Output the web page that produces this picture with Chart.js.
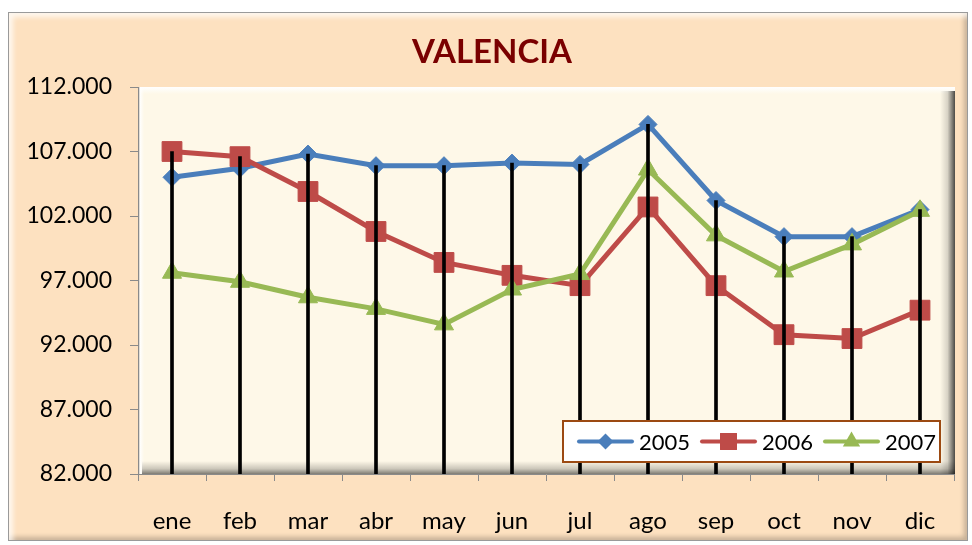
<!DOCTYPE html>
<html><head><meta charset="utf-8">
<script src="https://cdn.jsdelivr.net/npm/chart.js@4.4.1/dist/chart.umd.min.js"></script>
<style>
html,body{margin:0;padding:0;background:#fff;}
#wrap{position:relative;width:972px;height:545px;overflow:hidden;}
#frame{position:absolute;left:8px;top:12px;width:958px;height:527px;background:#FDE1C0;border:1px solid #9a9a9a;
 box-shadow: inset 4px 4px 5px rgba(255,255,255,0.75), inset -3px -3px 5px rgba(0,0,0,0.22);}
canvas{position:absolute;left:0;top:0;}
</style></head><body>
<div id="wrap"><div id="frame"></div><canvas id="c" width="972" height="545"></canvas></div>
<script>
const chartTitle = 'VALENCIA';
const categories = ['ene','feb','mar','abr','may','jun','jul','ago','sep','oct','nov','dic'];
const seriesNames = ['2005','2006','2007'];
const values2005 = [105000,105700,106800,105900,105900,106100,106000,109100,103200,100400,100400,102500];
const values2006 = [107000,106600,103900,100800,98400,97400,96600,102700,96600,92800,92500,94700];
const values2007 = [97600,96900,95700,94800,93600,96300,97500,105600,100500,97700,99800,102400];
const yMin = 82000, yMax = 112000, yStep = 5000;

const colors = ['#4A7EBB','#BE4B48','#98B954'];
const styles = ['rectRot','rect','triangle'];
const radii = [9,14,11];

function fmt(v){ return String(v).replace(/\B(?=(\d{3})+(?!\d))/g,'.'); }

const dropData = categories.map((_, i) => [yMin, Math.max(values2005[i], values2006[i], values2007[i])]);

const plotBg = {
  id:'plotBg',
  beforeDraw(chart){
    const {ctx, chartArea:a} = chart;
    const L=a.left, R=a.right+1, T=a.top, B=a.bottom;
    ctx.save();
    ctx.fillStyle='#FEF8E8';
    ctx.fillRect(L,T,R-L,B-T);
    let g = ctx.createLinearGradient(0,T,0,T+7);
    g.addColorStop(0,'rgba(255,255,255,1)'); g.addColorStop(1,'rgba(255,255,255,0)');
    ctx.fillStyle=g; ctx.fillRect(L,T,R-L,7);
    g = ctx.createLinearGradient(L,0,L+6,0);
    g.addColorStop(0,'rgba(120,110,100,0.45)'); g.addColorStop(0.35,'rgba(255,255,255,0.9)'); g.addColorStop(1,'rgba(255,255,255,0)');
    ctx.fillStyle=g; ctx.fillRect(L,T,6,B-T);
    g = ctx.createLinearGradient(R-15,0,R,0);
    g.addColorStop(0,'rgba(0,0,0,0)'); g.addColorStop(0.5,'rgba(0,0,0,0.15)'); g.addColorStop(1,'rgba(0,0,0,0.7)');
    ctx.fillStyle=g; ctx.fillRect(R-15,T+4,15,B-T-4);
    g = ctx.createLinearGradient(0,B-13,0,B);
    g.addColorStop(0,'rgba(0,0,0,0)'); g.addColorStop(0.6,'rgba(0,0,0,0.2)'); g.addColorStop(1,'rgba(0,0,0,0.5)');
    ctx.fillStyle=g; ctx.fillRect(L+4,B-13,R-L-4,13);
    ctx.restore();
  }
};

function drawMarker(ctx, style, x, y, r){
  ctx.beginPath();
  if(style==='rectRot'){
    ctx.moveTo(x,y-r); ctx.lineTo(x+r,y); ctx.lineTo(x,y+r); ctx.lineTo(x-r,y); ctx.closePath();
  } else if(style==='rect'){
    const s=r*Math.SQRT1_2; ctx.rect(x-s,y-s,2*s,2*s);
  } else {
    ctx.moveTo(x,y-r);
    ctx.lineTo(x+Math.sin(2*Math.PI/3)*r, y-Math.cos(2*Math.PI/3)*r);
    ctx.lineTo(x+Math.sin(4*Math.PI/3)*r, y-Math.cos(4*Math.PI/3)*r);
    ctx.closePath();
  }
  ctx.fill();
}

const titleAndLegend = {
  id:'titleAndLegend',
  afterDraw(chart){
    const {ctx, chartArea:a} = chart;
    ctx.save();
    ctx.font='bold 33px Lato';
    ctx.fillStyle='#7A0000';
    ctx.textAlign='center'; ctx.textBaseline='middle';
    ctx.fillText(chartTitle, 492, 52);
    const bx=a.left+425, by=a.top+334, bw=377, bh=41;
    ctx.fillStyle='#fff'; ctx.fillRect(bx,by,bw,bh);
    ctx.strokeStyle='#9C4A12'; ctx.lineWidth=2; ctx.strokeRect(bx,by,bw,bh);
    const cy=by+bh/2;
    ctx.font='22px Lato'; ctx.textAlign='left'; ctx.textBaseline='middle';
    seriesNames.forEach((n,i)=>{
      const x0=bx+16+i*123;
      ctx.strokeStyle=colors[i]; ctx.lineWidth=4; ctx.lineCap='round';
      ctx.beginPath(); ctx.moveTo(x0,cy); ctx.lineTo(x0+53,cy); ctx.stroke();
      ctx.fillStyle=colors[i];
      drawMarker(ctx, styles[i], x0+26.5, cy, i===1?12:(i===0?8:10));
      ctx.fillStyle='#000';
      ctx.fillText(n, x0+60, cy+1);
    });
    ctx.restore();
  }
};

const seriesValues=[values2005,values2006,values2007];
const datasets = seriesValues.map((vals,i)=>({
  type:'line', label:seriesNames[i], data:vals,
  borderColor:colors[i], backgroundColor:colors[i], borderWidth:5,
  pointStyle:styles[i], pointRadius:radii[i], pointHoverRadius:radii[i],
  pointBorderWidth:1, pointBorderColor:colors[i], pointBackgroundColor:colors[i],
  tension:0, fill:false, order:3-i
}));
datasets.push({type:'bar', label:'drop', data:dropData, backgroundColor:'#000', borderWidth:0, barThickness:3, order:0});

new Chart(document.getElementById('c'), {
  type:'line',
  data:{labels:categories, datasets},
  options:{
    responsive:false, animation:false, devicePixelRatio:1,
    layout:{padding:{top:87,right:18,left:0,bottom:0}},
    plugins:{legend:{display:false}, title:{display:false}, tooltip:{enabled:false}},
    scales:{
      x:{type:'category', offset:true,
        grid:{offset:true, drawOnChartArea:false, drawTicks:true, tickLength:7, color:'#8a8a8a', lineWidth:1},
        border:{display:true, color:'#8a8a8a', width:1},
        ticks:{font:{family:'Lato', size:24}, color:'#000', padding:26, maxRotation:0},
        afterFit(s){ s.height=71; }
      },
      y:{min:yMin, max:yMax,
        grid:{drawOnChartArea:false, drawTicks:true, tickLength:8, color:'#8a8a8a', lineWidth:1},
        border:{display:true, color:'#8a8a8a', width:1},
        ticks:{stepSize:yStep, font:{family:'Lato', size:23}, color:'#000', padding:18, callback:v=>fmt(v)},
        afterFit(s){ s.width=138; }
      }
    }
  },
  plugins:[plotBg, titleAndLegend]
});
</script>
</body></html>
